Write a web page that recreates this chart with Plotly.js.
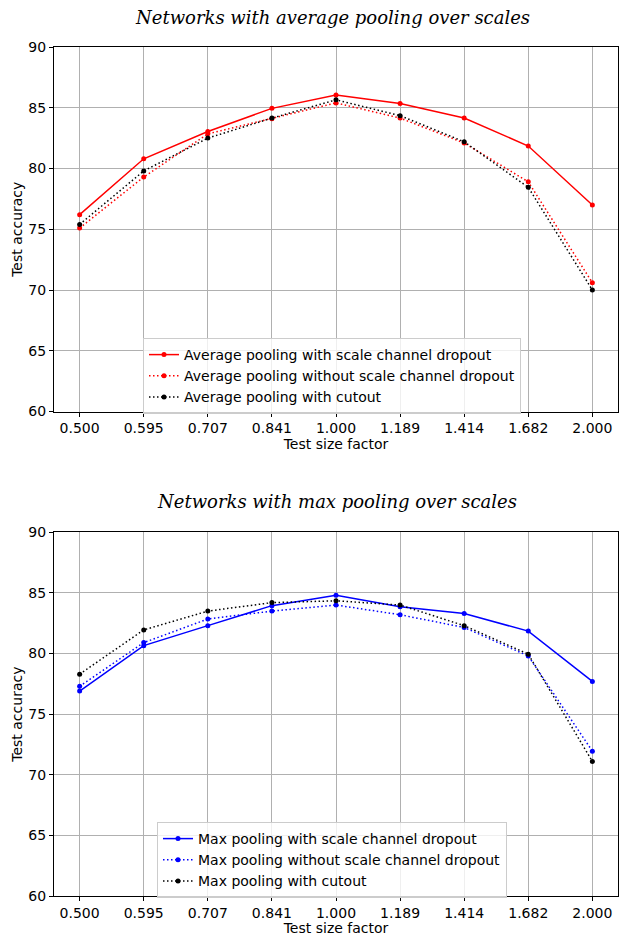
<!DOCTYPE html>
<html><head><meta charset="utf-8">
<script src="https://cdn.plot.ly/plotly-3.0.1.min.js"></script>
<style>body{margin:0;padding:0;background:#fff}#chart{width:620px;height:936px}</style>
</head><body><div id="chart"></div>
<script>
const factors = ["0.500","0.595","0.707","0.841","1.000","1.189","1.414","1.682","2.000"];
const avgDropout   = [76.2, 80.8, 83.05, 84.95, 86.05, 85.35, 84.15, 81.85, 77.0];
const avgNoDropout = [75.1, 79.3, 82.85, 84.1, 85.4, 84.15, 82.1, 78.9, 70.6];
const avgCutout    = [75.4, 79.8, 82.5, 84.15, 85.65, 84.35, 82.2, 78.45, 70.0];
const maxDropout   = [76.9, 80.65, 82.3, 83.95, 84.8, 83.85, 83.3, 81.85, 77.7];
const maxNoDropout = [77.3, 80.9, 82.85, 83.5, 84.0, 83.2, 82.15, 79.8, 71.95];
const maxCutout    = [78.3, 81.95, 83.5, 84.2, 84.35, 84.0, 82.3, 79.95, 71.1];
const yTicks = [60, 65, 70, 75, 80, 85, 90];

const DOT = "1.5px,2.5px";
function tr(y, name, color, dash, xa, ya, leg) {
  return {x: factors, y: y, name: name, type: "scatter", mode: "lines+markers",
    line: {color: color, width: 1.5, dash: dash}, marker: {color: color, size: 5},
    xaxis: xa, yaxis: ya, legend: leg};
}
const data = [
  tr(avgDropout, "Average pooling with scale channel dropout", "#ff0000", "solid", "x", "y", "legend"),
  tr(avgNoDropout, "Average pooling without scale channel dropout", "#ff0000", DOT, "x", "y", "legend"),
  tr(avgCutout, "Average pooling with cutout", "#000000", DOT, "x", "y", "legend"),
  tr(maxDropout, "Max pooling with scale channel dropout", "#0000ff", "solid", "x2", "y2", "legend2"),
  tr(maxNoDropout, "Max pooling without scale channel dropout", "#0000ff", DOT, "x2", "y2", "legend2"),
  tr(maxCutout, "Max pooling with cutout", "#000000", DOT, "x2", "y2", "legend2")
];
const tickFont = {family: "DejaVu Sans", size: 14, color: "#000"};
function xax(anchor) {
  return {type: "category", range: [-0.4, 8.4], domain: [54/620, 618/620], anchor: anchor,
    showgrid: true, gridcolor: "#b0b0b0", gridwidth: 1, showline: true, linecolor: "#000", linewidth: 1,
    mirror: true, ticks: "outside", ticklen: 4, tickcolor: "#000", tickfont: tickFont, zeroline: false,
    automargin: false,
    title: {text: "Test size factor", font: {family: "DejaVu Sans", size: 14, color: "#000"}, standoff: 3}};
}
function yax(anchor, dom) {
  return {range: [60, 90], domain: dom, anchor: anchor, tickvals: yTicks, ticktext: yTicks.map(String),
    showgrid: true, gridcolor: "#b0b0b0", gridwidth: 1, showline: true, linecolor: "#000", linewidth: 1,
    mirror: true, ticks: "outside", ticklen: 4, tickcolor: "#000", tickfont: tickFont, zeroline: false,
    automargin: false,
    title: {text: "Test accuracy", font: {family: "DejaVu Sans", size: 14, color: "#000"}, standoff: 2}};
}
const legBase = {xanchor: "left", yanchor: "top", bgcolor: "rgba(255,255,255,0.8)", bordercolor: "#cccccc",
  borderwidth: 1, font: {family: "DejaVu Sans", size: 14, color: "#000"}, tracegroupgap: 0};
const layout = {
  width: 620, height: 936, margin: {l: 0, r: 0, t: 0, b: 0}, paper_bgcolor: "#fff", plot_bgcolor: "#fff",
  showlegend: true,
  xaxis: xax("y"), yaxis: yax("x", [1-411.5/936, 1-47/936]),
  xaxis2: xax("y2"), yaxis2: yax("x2", [1-896/936, 1-532.3/936]),
  legend: Object.assign({x: 143/620, y: 1-338/936}, legBase),
  legend2: Object.assign({x: 157/620, y: 1-822/936}, legBase),
  annotations: [
    {text: "Networks with average pooling over scales", xref: "paper", yref: "paper", x: 332/620, y: 1-17/936,
     xanchor: "center", yanchor: "middle", showarrow: false,
     font: {family: "DejaVu Serif", size: 18, color: "#000", style: "italic"}},
    {text: "Networks with max pooling over scales", xref: "paper", yref: "paper", x: 337/620, y: 1-501/936,
     xanchor: "center", yanchor: "middle", showarrow: false,
     font: {family: "DejaVu Serif", size: 18, color: "#000", style: "italic"}}
  ]
};
Plotly.newPlot("chart", data, layout, {staticPlot: true, displayModeBar: false});
</script></body></html>
